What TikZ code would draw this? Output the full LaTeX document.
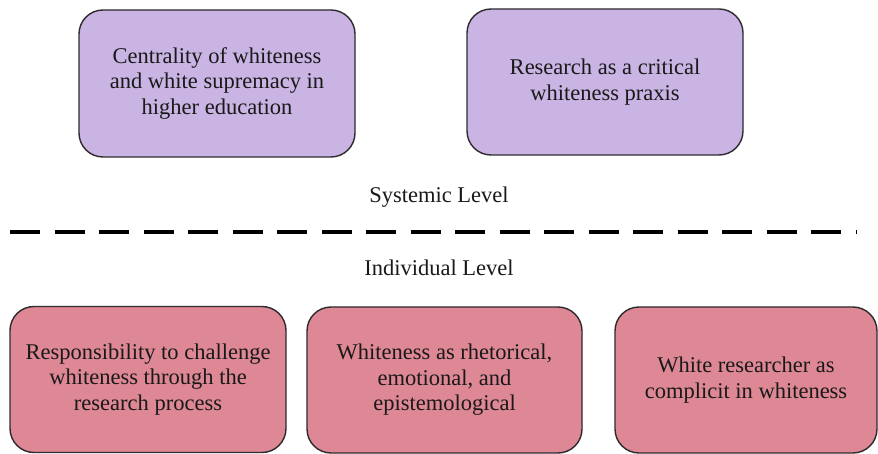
\documentclass[tikz,border=0pt]{standalone}
\usepackage{fontspec}
\setmainfont{Liberation Serif}
\definecolor{lav}{HTML}{C9B4E4}
\definecolor{rose}{HTML}{DE8795}
\definecolor{edge}{HTML}{2E2A2E}
\tikzset{
  card/.style={draw=edge, line width=1.4pt, rounded corners=24pt, align=center,
    font=\fontsize{22.5}{25.5}\selectfont, text=black!90, inner sep=0pt},
  sysbox/.style={card, fill=lav, minimum width=276pt, minimum height=147pt},
  indbox/.style={card, fill=rose, minimum width=276pt, minimum height=146pt},
  levellabel/.style={font=\fontsize{22.5}{25}\selectfont, text=black!90},
  divider/.style={line width=4pt, dash pattern=on 30pt off 14.5pt}
}
\begin{document}
\begin{tikzpicture}[x=1pt,y=-1pt]
\useasboundingbox (0,0) rectangle (878,454);
\node[sysbox] (s1) at (217,83.5) {Centrality of whiteness\\and white supremacy in\\higher education};
\node[sysbox, minimum height=146pt] (s2) at (605,82) {Research as a critical\\whiteness praxis};
\node[levellabel] (sys) at (439,197) {Systemic Level};
\node[levellabel] (ind) at (439,268) {Individual Level};
\coordinate (dl) at (10,232);
\coordinate (dr) at (856,232);
\draw[divider] (dl) -- (dr);
\node[indbox] (i1) at (148,379.5) {Responsibility to challenge\\whiteness through the\\research process};
\node[indbox, minimum width=275pt] (i2) at (444.5,380) {Whiteness as rhetorical,\\emotional, and\\epistemological};
\node[indbox, minimum width=262pt] (i3) at (746,380) {White researcher as\\complicit in whiteness};
\end{tikzpicture}
\end{document}
